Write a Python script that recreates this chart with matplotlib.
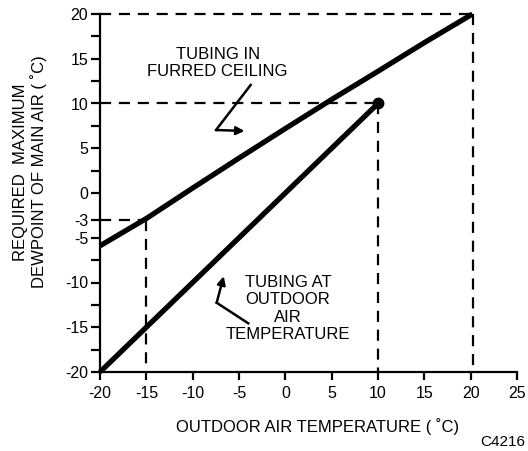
import matplotlib
matplotlib.use("Agg")
import matplotlib.pyplot as plt

plt.rcParams['font.family'] = ['Liberation Sans', 'DejaVu Sans']

# upper curve: tubing in furred ceiling
furred_x = [-20, -15, -10, -5, 0, 5, 10, 15, 20.2]
furred_y = [-5.9, -2.85, 0.55, 3.9, 7.2, 10.45, 13.6, 16.8, 20]

# lower line: tubing at outdoor air temperature
outdoor_x = [-20, 10]
outdoor_y = [-20, 10]

x_ticks = [-20, -15, -10, -5, 0, 5, 10, 15, 20, 25]
y_ticks = [-20, -15, -10, -5, -3, 0, 5, 10, 15, 20]
y_minor = [-17.5, -12.5, -7.5, 2.5, 7.5, 12.5, 17.5]

fig = plt.figure(figsize=(5.28, 4.51), dpi=100)
ax = fig.add_axes([100/528, 1-372/451, 417/528, 358/451])

ax.set_xlim(-20, 25)
ax.set_ylim(-20, 20)

# dashed guide lines
dash = dict(color='black', lw=1.6, ls=(0, (5, 3.5)), clip_on=False)
ax.plot([-20, 20.2], [20, 20], **dash)
ax.plot([20.2, 20.2], [20, -20], **dash)
ax.plot([-20, 10], [10, 10], **dash)
ax.plot([10, 10], [10, -20], **dash)
ax.plot([-20, -15], [-3, -3], **dash)
ax.plot([-15, -15], [-3, -20], **dash)

ax.plot(furred_x, furred_y, color='black', lw=3.8, solid_capstyle='butt',
        solid_joinstyle='round', clip_on=False)
ax.plot(outdoor_x, outdoor_y, color='black', lw=3.8, solid_capstyle='butt', clip_on=False)
ax.plot([10], [10], 'o', color='black', ms=7.5, clip_on=False)

# annotations
ax.text(-7.3, 14.5, 'TUBING IN\nFURRED CEILING', ha='center', va='center',
        fontsize=12, linespacing=1.2)
ax.plot([-3.74, -7.48], [12.07, 7.04], color='black', lw=1.8)
ax.annotate('', xy=(-4.4, 6.93), xytext=(-7.48, 7.04),
            arrowprops=dict(arrowstyle='-|>', color='black', lw=1.8,
                            mutation_scale=12, shrinkA=0, shrinkB=0))

ax.text(0.3, -12.9, 'TUBING AT\nOUTDOOR\nAIR\nTEMPERATURE', ha='center', va='center',
        fontsize=12, linespacing=1.2)
ax.plot([-4.0, -7.41], [-14.56, -12.26], color='black', lw=1.8)
ax.annotate('', xy=(-6.65, -9.3), xytext=(-7.41, -12.26),
            arrowprops=dict(arrowstyle='-|>', color='black', lw=1.8,
                            mutation_scale=12, shrinkA=0, shrinkB=0))

# axes styling
for s in ['top', 'right']:
    ax.spines[s].set_visible(False)
for s in ['left', 'bottom']:
    ax.spines[s].set_linewidth(1.6)

ax.set_xticks(x_ticks)
ax.set_xticklabels([str(v) for v in x_ticks])
ax.set_yticks(y_ticks)
ax.set_yticklabels([str(v) for v in y_ticks])
ax.set_yticks(y_minor, minor=True)
ax.tick_params(axis='both', which='both', direction='out', width=1.6, labelsize=11.5)
ax.tick_params(axis='x', length=6, pad=4)
ax.tick_params(axis='y', which='both', length=6.5, pad=2)

fig.text(318/528, 1-427/451, 'OUTDOOR AIR TEMPERATURE ( \u02daC)', ha='center', va='center', fontsize=12)
fig.text(30/528, 1-172/451, 'REQUIRED  MAXIMUM\nDEWPOINT OF MAIN AIR ( \u02daC)', ha='center', va='center',
         rotation=90, fontsize=12, multialignment='center', linespacing=1.2)
fig.text(525/528, 1-442/451, 'C4216', ha='right', va='center', fontsize=11)

fig.savefig('out.png', dpi=100)
